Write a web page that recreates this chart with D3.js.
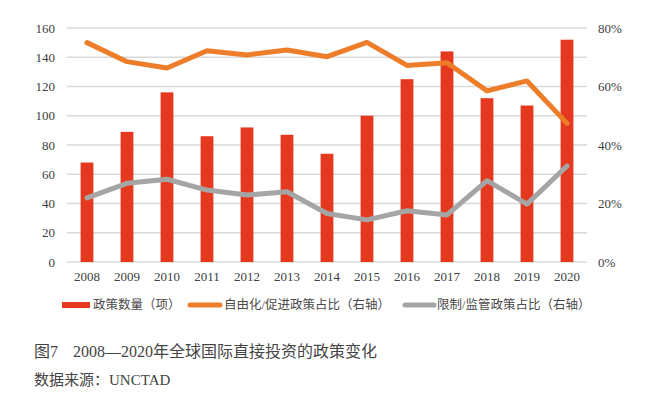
<!DOCTYPE html>
<html><head><meta charset="utf-8">
<script src="https://cdn.jsdelivr.net/npm/d3@7"></script>
<style>
html,body{margin:0;padding:0;background:#fff;}
svg{display:block;}
</style></head>
<body>
<svg id="c" width="645" height="393"></svg>
<script>
const years = ["2008","2009","2010","2011","2012","2013","2014","2015","2016","2017","2018","2019","2020"];
const policyCount = [68,89,116,86,92,87,74,100,125,144,112,107,152];
const liberalShare = [75.0,68.5,66.3,72.2,70.8,72.5,70.2,75.1,67.2,68.1,58.5,61.9,47.4];
const restrictShare = [21.9,26.9,28.3,24.6,22.9,24.0,16.6,14.4,17.5,16.1,27.8,19.8,32.8];
const leftTicks = [0,20,40,60,80,100,120,140,160];
const rightTicks = [0,20,40,60,80];
const legendLabels = ["政策数量（项）","自由化/促进政策占比（右轴）","限制/监管政策占比（右轴）"];
const colors = {bar:"#E5391F", orange:"#EE7D2A", gray:"#A5A5A5", grid:"#D9D9D9", text:"#404040"};

const svg = d3.select("#c");
const pLeft = 67, pRight = 587, pTop = 28, pBottom = 262;
const x = d3.scaleBand().domain(years).range([pLeft, pRight]).paddingInner(0.68).paddingOuter(0.34);
const xc = d => x(d) + x.bandwidth()/2;
const yL = d3.scaleLinear().domain([0,160]).range([pBottom, pTop]);
const yR = d3.scaleLinear().domain([0,80]).range([pBottom, pTop]);
const numFont = "'Liberation Serif','Times New Roman',serif";
const cjkFont = "'Liberation Serif','Noto Sans CJK SC',serif";

// gridlines
svg.append("g").selectAll("line").data(leftTicks).join("line")
  .attr("x1", pLeft).attr("x2", pRight)
  .attr("y1", d => yL(d)).attr("y2", d => yL(d))
  .attr("stroke", colors.grid).attr("stroke-width", 1.5);

// left axis
const gL = svg.append("g").attr("transform", `translate(${pLeft},0)`)
  .call(d3.axisLeft(yL).tickValues(leftTicks).tickSize(0).tickPadding(12));
gL.select(".domain").remove();
gL.selectAll("text").attr("font-family", numFont).attr("font-size", 13).attr("fill", colors.text);

// right axis
const gR = svg.append("g").attr("transform", `translate(${pRight},0)`)
  .call(d3.axisRight(yR).tickValues(rightTicks).tickSize(0).tickPadding(11).tickFormat(d => d + "%"));
gR.select(".domain").remove();
gR.selectAll("text").attr("font-family", numFont).attr("font-size", 13).attr("fill", colors.text);

// x axis
const gX = svg.append("g").attr("transform", `translate(0,${pBottom})`)
  .call(d3.axisBottom(x).tickSize(0).tickPadding(10));
gX.select(".domain").remove();
gX.selectAll("text").attr("font-family", numFont).attr("font-size", 13).attr("fill", colors.text);

// bars
svg.append("g").selectAll("rect").data(years).join("rect")
  .attr("x", d => x(d)).attr("width", x.bandwidth())
  .attr("y", (d,i) => yL(policyCount[i]))
  .attr("height", (d,i) => pBottom - yL(policyCount[i]))
  .attr("fill", colors.bar);

// lines
const lineGen = arr => d3.line().x((d,i) => xc(years[i])).y(d => yR(d))(arr);
svg.append("path").attr("d", lineGen(liberalShare)).attr("fill","none")
  .attr("stroke", colors.orange).attr("stroke-width", 5).attr("stroke-linejoin","round").attr("stroke-linecap","round");
svg.append("path").attr("d", lineGen(restrictShare)).attr("fill","none")
  .attr("stroke", colors.gray).attr("stroke-width", 5).attr("stroke-linejoin","round").attr("stroke-linecap","round");

// legend
const ly = 305;
const leg = svg.append("g").attr("font-family", cjkFont).attr("font-size", 12.5).attr("fill", "#4a4a4a");
leg.append("rect").attr("x", 62).attr("y", ly-3).attr("width", 28).attr("height", 6).attr("fill", colors.bar);
leg.append("text").attr("x", 93).attr("y", ly).attr("dominant-baseline","central").text(legendLabels[0]);
leg.append("line").attr("x1", 190).attr("x2", 220).attr("y1", ly).attr("y2", ly)
  .attr("stroke", colors.orange).attr("stroke-width", 5).attr("stroke-linecap","round");
leg.append("text").attr("x", 224).attr("y", ly).attr("dominant-baseline","central").text(legendLabels[1]);
leg.append("line").attr("x1", 405).attr("x2", 434).attr("y1", ly).attr("y2", ly)
  .attr("stroke", colors.gray).attr("stroke-width", 5).attr("stroke-linecap","round");
leg.append("text").attr("x", 437).attr("y", ly).attr("dominant-baseline","central").text(legendLabels[2]);

// caption
const cap = svg.append("text").attr("y", 357).attr("font-family", cjkFont).attr("font-size", 16).attr("fill", "#444");
cap.append("tspan").attr("x", 34).text("图7");
cap.append("tspan").attr("x", 73).text("2008—2020年全球国际直接投资的政策变化");
svg.append("text").attr("x", 34).attr("y", 385).attr("font-family", cjkFont).attr("font-size", 15).attr("fill", "#444")
  .text("数据来源：UNCTAD");
</script>
</body></html>
